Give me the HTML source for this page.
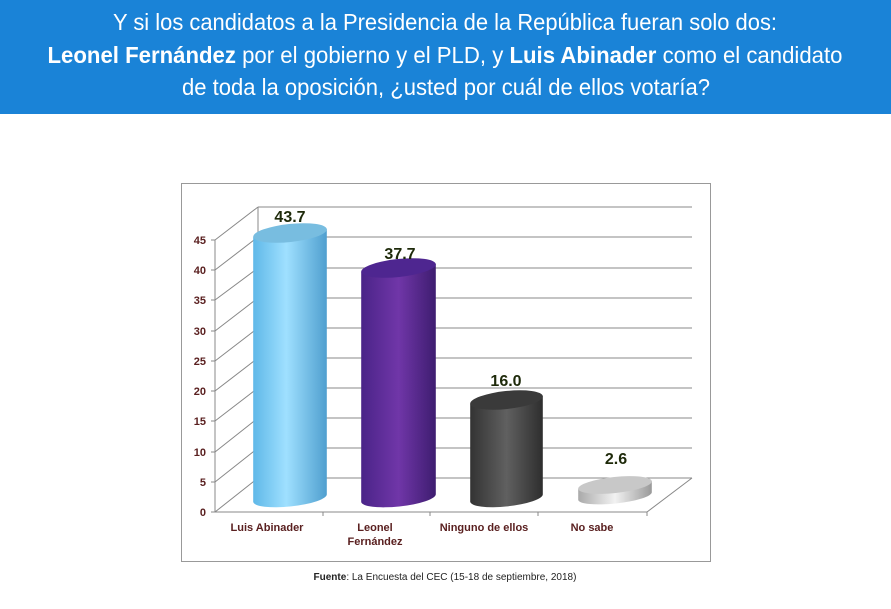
<!DOCTYPE html>
<html><head><meta charset="utf-8"><style>
html,body{margin:0;padding:0;background:#fff;}
svg{display:block;font-family:"Liberation Sans",Arial,sans-serif;}
</style></head><body>
<svg width="891" height="609" viewBox="0 0 891 609" xmlns="http://www.w3.org/2000/svg">
<defs>
<linearGradient id="gb" x1="0" x2="1"><stop offset="0" stop-color="#5fb8e8"/><stop offset="0.45" stop-color="#9fe0ff"/><stop offset="1" stop-color="#4f9fcf"/></linearGradient>
<linearGradient id="gp" x1="0" x2="1"><stop offset="0" stop-color="#4a2488"/><stop offset="0.5" stop-color="#7036a8"/><stop offset="1" stop-color="#3e1d70"/></linearGradient>
<linearGradient id="gd" x1="0" x2="1"><stop offset="0" stop-color="#333"/><stop offset="0.5" stop-color="#606060"/><stop offset="1" stop-color="#2e2e2e"/></linearGradient>
<linearGradient id="gs" x1="0" x2="1"><stop offset="0" stop-color="#aaa"/><stop offset="0.5" stop-color="#f2f2f2"/><stop offset="1" stop-color="#999"/></linearGradient>
</defs>
<rect x="0" y="0" width="891" height="114" fill="#1a83d7"/>
<g fill="#fff" font-size="23" text-anchor="middle">
<text x="445" y="30" textLength="664" lengthAdjust="spacingAndGlyphs">Y si los candidatos a la Presidencia de la República fueran solo dos:</text>
<text x="445" y="63" textLength="795" lengthAdjust="spacingAndGlyphs"><tspan font-weight="bold">Leonel Fernández</tspan> por el gobierno y el PLD, y <tspan font-weight="bold">Luis Abinader</tspan> como el candidato</text>
<text x="446" y="95" textLength="528" lengthAdjust="spacingAndGlyphs">de toda la oposición, ¿usted por cuál de ellos votaría?</text>
</g>
<rect x="181.5" y="183.5" width="529" height="378" fill="#fff" stroke="#999" stroke-width="1"/>
<g stroke="#888" stroke-width="1" fill="none">
<path d="M258 207V478L692 478"/>
<path d="M215 240V512H647L692 478"/>
<path d="M258 207H692M258 237H692M258 268H692M258 298H692M258 328H692M258 358H692M258 388H692M258 418H692M258 448H692"/>
<path d="M215 512L258 478M215 482L258 448M215 452L258 418M215 421L258 388M215 391L258 358M215 361L258 328M215 331L258 298M215 300L258 268M215 270L258 237M215 240L258 207"/>
<path d="M211 512h4M211 482h4M211 452h4M211 421h4M211 391h4M211 361h4M211 331h4M211 300h4M211 270h4M211 240h4"/>
<path d="M323 512v4M430 512v4M538 512v4M647 512v4"/>
</g>
<g font-size="11" font-weight="bold" fill="#5a2020" text-anchor="end">
<text x="206" y="516">0</text><text x="206" y="486">5</text><text x="206" y="456">10</text><text x="206" y="425">15</text><text x="206" y="395">20</text><text x="206" y="365">25</text><text x="206" y="335">30</text><text x="206" y="304">35</text><text x="206" y="274">40</text><text x="206" y="244">45</text>
</g>
<path d="M253.2 236.9V501.9A37 8.5 -6 0 0 326.8 494.1V229.1Z" fill="url(#gb)"/><ellipse cx="290" cy="233" rx="37" ry="9" fill="#78bde0" transform="rotate(-6 290 233)"/>
<path d="M361.2 271.9V501.9A37.5 8.5 -6 0 0 435.8 494.1V264.1Z" fill="url(#gp)"/><ellipse cx="398.5" cy="268" rx="37.5" ry="9" fill="#4e2690" transform="rotate(-6 398.5 268)"/>
<path d="M470.2 403.8V501.8A36.5 8.5 -6 0 0 542.8 494.2V396.2Z" fill="url(#gd)"/><ellipse cx="506.5" cy="400" rx="36.5" ry="9" fill="#3a3a3a" transform="rotate(-6 506.5 400)"/>
<path d="M578.2 488.9V499.9A37 7.5 -6 0 0 651.8 492.1V481.1Z" fill="url(#gs)"/><ellipse cx="615" cy="485" rx="37" ry="8" fill="#c8c8c8" transform="rotate(-6 615 485)"/>
<g font-size="16" font-weight="bold" fill="#1e2a0a" text-anchor="middle">
<text x="290" y="222">43.7</text><text x="400" y="259">37.7</text><text x="506" y="386">16.0</text><text x="616" y="464">2.6</text>
</g>
<g font-size="11" font-weight="bold" fill="#5a2020" text-anchor="middle">
<text x="267" y="531">Luis Abinader</text><text x="375" y="531">Leonel</text><text x="375" y="545">Fernández</text><text x="484" y="531">Ninguno de ellos</text><text x="592" y="531">No sabe</text>
</g>
<text x="445" y="580" font-size="10" text-anchor="middle" fill="#222"><tspan font-weight="bold">Fuente</tspan>: La Encuesta del CEC (15-18 de septiembre, 2018)</text>
</svg>
</body></html>
